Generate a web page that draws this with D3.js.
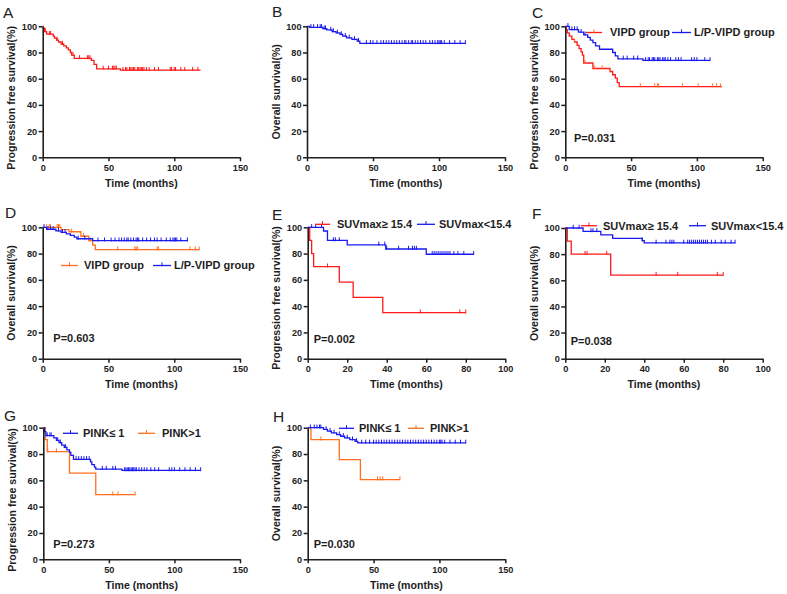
<!DOCTYPE html>
<html><head><meta charset="utf-8">
<script src="https://cdn.jsdelivr.net/npm/d3@7"></script>
<style>
body{margin:0;background:#fff;}
svg{display:block;font-family:"Liberation Sans",Arial,sans-serif;}
</style></head>
<body><svg id="c" width="787" height="594"></svg>
<script>
// ---------- DATA ----------
const xTicks150 = [0, 50, 100, 150];
const xTicks100 = [0, 20, 40, 60, 80, 100];
const yTicks = [0, 20, 40, 60, 80, 100];

// A: PFS, all patients
const A_times = [0.5, 1.5, 3, 8, 9, 10.5, 12, 14, 16, 18, 19.5, 21, 22, 24, 37, 39, 41, 59];
const A_surv  = [98.5, 96, 94, 92.5, 91, 89.5, 88, 86.5, 85, 83.5, 82, 80, 78, 75.5, 74, 71, 67.5, 66.5];
const A_cens  = [2, 5, 6, 11, 15, 23, 28, 34, 35, 36, 46, 50, 53, 54, 55, 56, 61, 63, 64, 66, 67, 68, 69, 70, 72, 73, 74, 75, 76, 77, 79, 81, 85, 88, 97, 98, 100, 101, 105, 108, 114, 118];
const A_end = 120;

// B: OS, all patients
const B_times = [2, 12, 15, 19, 22, 25, 27, 30, 34, 38, 40];
const B_surv  = [99.2, 98.2, 97.2, 96, 95, 93.8, 92.5, 91.2, 90, 88.7, 87];
const B_cens  = [3, 5, 8, 10, 11, 13, 14, 18, 20, 23, 26, 29, 32, 36, 39, 45, 48, 50, 53, 56, 58, 60, 62, 64, 66, 68, 70, 72, 74, 75, 77, 79, 80, 82, 84, 86, 88, 90, 93, 95, 97, 99, 100, 101, 102, 104, 108, 112, 116, 120];
const B_end = 120;

// C: PFS by group
const C_vipd_times = [0.5, 1.5, 3, 5, 7, 9, 10.5, 12, 13, 14, 21, 34, 36, 38, 39.5, 41];
const C_vipd_surv  = [97.5, 95, 92.5, 90, 88, 85.5, 83, 80.5, 78, 72, 67.8, 65.5, 63, 60.5, 57, 54];
const C_vipd_cens  = [7, 15, 22, 28, 34, 57, 68, 70, 71, 89, 101, 112, 115, 118];
const C_vipd_end = 119;
const C_lp_times = [3, 10, 14, 17, 19, 21, 23, 26, 36, 38, 40, 59];
const C_lp_surv  = [97.5, 95.5, 93.5, 91.5, 89.5, 87.5, 85, 82.5, 80, 77.5, 75.2, 74];
const C_lp_cens  = [2, 5, 7, 9, 12, 15, 44, 47, 52, 55, 61, 63, 64, 66, 67, 68, 70, 71, 72, 74, 75, 76, 78, 80, 84, 86, 88, 96, 98, 100, 106, 110];
const C_lp_end = 110;

// D: OS by group
const D_vipd_times = [14, 20, 29, 35, 38, 40];
const D_vipd_surv  = [98.3, 96.6, 93.2, 89.8, 86.4, 83];
const D_vipd_cens  = [3, 5, 6, 11, 12, 13, 22, 31, 36, 57, 70, 71, 72, 87, 88, 112, 116, 119];
const D_vipd_end = 119;
const D_lp_times = [3, 10, 14, 18, 21, 24, 26, 38];
const D_lp_surv  = [98.5, 97.3, 96.2, 95, 93.8, 92.5, 91.3, 89.8];
const D_lp_cens  = [1, 4, 6, 8, 12, 15, 17, 27, 32, 42, 47, 52, 55, 58, 60, 62, 64, 65, 67, 69, 71, 72, 73, 76, 79, 82, 85, 87, 90, 94, 97, 99, 100, 101, 102, 105, 110];
const D_lp_end = 110;

// E: PFS by SUVmax
const E_hi_times = [1, 2, 3, 16, 23, 38];
const E_hi_surv  = [90, 80, 70, 58.3, 46.7, 35];
const E_hi_cens  = [10, 57, 77, 80];
const E_hi_end = 80;
const E_lo_times = [8, 10, 20, 39.5, 60];
const E_lo_surv  = [97.2, 90, 86.7, 83.5, 79.5];
const E_lo_cens  = [2, 4, 7, 13, 14, 16, 36, 39, 40, 46, 51, 53, 54, 55, 63, 64, 65, 66, 67, 68, 69, 70, 71, 72, 74, 76, 79, 84];
const E_lo_end = 84;

// F: OS by SUVmax
const F_hi_times = [1, 3, 23];
const F_hi_surv  = [90, 80, 64];
const F_hi_cens  = [10, 11, 21, 46, 57, 77, 80];
const F_hi_end = 80;
const F_lo_times = [9, 18, 24, 39, 40];
const F_lo_surv  = [97.4, 94.7, 92, 90.3, 88.6];
const F_lo_cens  = [4, 7, 13, 14, 16, 39, 46, 51, 53, 54, 55, 60, 62, 63, 64, 65, 66, 67, 68, 69, 70, 71, 72, 74, 76, 79, 81, 84, 86];
const F_lo_end = 86;

// G: PFS by PINK
const G_le_times = [1, 2, 8, 10, 12, 14, 16, 18, 20, 21, 23, 36, 37, 39, 40, 60];
const G_le_surv  = [97, 94, 92.2, 90.4, 88.6, 86.8, 85, 83.2, 81.2, 79, 76, 74, 72, 70, 68.5, 67.5];
const G_le_cens  = [3, 5, 6, 11, 13, 17, 25, 27, 29, 31, 33, 35, 45, 48, 53, 55, 62, 63, 64, 65, 66, 67, 68, 69, 70, 71, 73, 75, 77, 79, 82, 85, 88, 96, 98, 100, 104, 108, 112, 116, 120];
const G_le_end = 120;
const G_gt_times = [1.5, 3, 20, 40];
const G_gt_surv  = [90.9, 81.8, 65.5, 49.1];
const G_gt_cens  = [3.5, 10, 53, 57, 70];
const G_gt_end = 70;

// H: OS by PINK
const H_le_times = [12, 15, 18, 22, 25, 28, 32, 36, 38];
const H_le_surv  = [98.7, 97.4, 96.1, 94.8, 93.5, 92.2, 90.9, 89.6, 88.5];
const H_le_cens  = [2, 5, 7, 9, 10, 14, 17, 20, 24, 27, 30, 34, 37, 41, 44, 47, 50, 52, 54, 56, 58, 60, 62, 64, 66, 68, 70, 72, 74, 76, 78, 80, 82, 84, 86, 88, 90, 92, 94, 96, 98, 100, 101, 102, 104, 108, 112, 116, 120];
const H_le_end = 120;
const H_gt_times = [2.5, 24, 40];
const H_gt_surv  = [90.9, 75.8, 60.6];
const H_gt_cens  = [10, 53, 55, 57, 70];
const H_gt_end = 70;

const pValues = {C: "P=0.031", D: "P=0.603", E: "P=0.002", F: "P=0.038", G: "P=0.273", H: "P=0.030"};

// ---------- STYLE ----------
const RED = "#ff1a1a", BLUE = "#1a1aee", ORANGE = "#ff6f1f";
const AX = "#1e1e1e";
const PFS = "Progression free survival(%)", OS = "Overall survival(%)";

const panels = [
  {id:"A", x0:42.7, x1:240, yT:26.3, yB:157.3, xmax:150, xt:xTicks150, yt:PFS, off:6, L:[3,18],
   curves:[{t:A_times,s:A_surv,c:A_cens,e:A_end,col:RED,tc:RED}], legend:[], p:null},
  {id:"B", x0:307, x1:505, yT:26.3, yB:157.3, xmax:150, xt:xTicks150, yt:OS, off:0, L:[272,17],
   curves:[{t:B_times,s:B_surv,c:B_cens,e:B_end,col:BLUE,tc:BLUE}], legend:[], p:null},
  {id:"C", x0:565.3, x1:762.7, yT:26.3, yB:157.3, xmax:150, xt:xTicks150, yt:PFS, off:6, L:[532,18],
   curves:[{t:C_vipd_times,s:C_vipd_surv,c:C_vipd_cens,e:C_vipd_end,col:RED,tc:ORANGE},
           {t:C_lp_times,s:C_lp_surv,c:C_lp_cens,e:C_lp_end,col:BLUE,tc:BLUE}],
   legend:[{x1:586,x2:602,tx:610,y:32.5,label:"VIPD group",col:RED,tc:ORANGE},
           {x1:672,x2:691,tx:694,y:32.5,label:"L/P-VIPD group",col:BLUE,tc:BLUE}], p:[574,141.7]},
  {id:"D", x0:42.7, x1:240, yT:227.3, yB:358.7, xmax:150, xt:xTicks150, yt:OS, off:0, L:[5,218],
   curves:[{t:D_vipd_times,s:D_vipd_surv,c:D_vipd_cens,e:D_vipd_end,col:ORANGE,tc:ORANGE},
           {t:D_lp_times,s:D_lp_surv,c:D_lp_cens,e:D_lp_end,col:BLUE,tc:BLUE}],
   legend:[{x1:61,x2:78,tx:84,y:265.5,label:"VIPD group",col:ORANGE,tc:ORANGE},
           {x1:153,x2:171,tx:174,y:265.5,label:"L/P-VIPD group",col:BLUE,tc:BLUE}], p:[53.3,341.5]},
  {id:"E", x0:307.7, x1:505.3, yT:227.3, yB:358.7, xmax:100, xt:xTicks100, yt:PFS, off:5, L:[272,220],
   curves:[{t:E_hi_times,s:E_hi_surv,c:E_hi_cens,e:E_hi_end,col:RED,tc:RED},
           {t:E_lo_times,s:E_lo_surv,c:E_lo_cens,e:E_lo_end,col:BLUE,tc:BLUE}],
   legend:[{x1:315,x2:330,tx:337,y:224.3,label:"SUVmax\u2265 15.4",col:RED,tc:RED},
           {x1:417,x2:435,tx:439,y:224.3,label:"SUVmax<15.4",col:BLUE,tc:BLUE}], p:[313.7,343.3]},
  {id:"F", x0:565.3, x1:762.7, yT:228, yB:358.7, xmax:100, xt:xTicks100, yt:OS, off:0, L:[532,219],
   curves:[{t:F_hi_times,s:F_hi_surv,c:F_hi_cens,e:F_hi_end,col:RED,tc:RED},
           {t:F_lo_times,s:F_lo_surv,c:F_lo_cens,e:F_lo_end,col:BLUE,tc:BLUE}],
   legend:[{x1:581,x2:597,tx:603,y:225.7,label:"SUVmax\u2265 15.4",col:RED,tc:RED},
           {x1:689,x2:706,tx:711,y:225.7,label:"SUVmax<15.4",col:BLUE,tc:BLUE}], p:[570.7,345]},
  {id:"G", x0:43.3, x1:240, yT:427.7, yB:559.3, xmax:150, xt:xTicks150, yt:PFS, off:6.5, L:[4,421],
   curves:[{t:G_gt_times,s:G_gt_surv,c:G_gt_cens,e:G_gt_end,col:ORANGE,tc:ORANGE},
           {t:G_le_times,s:G_le_surv,c:G_le_cens,e:G_le_end,col:BLUE,tc:BLUE}],
   legend:[{x1:63,x2:78,tx:83,y:433.3,label:"PINK\u2264 1",col:BLUE,tc:BLUE},
           {x1:138,x2:155,tx:162,y:433.3,label:"PINK>1",col:ORANGE,tc:ORANGE}], p:[53.3,548.3]},
  {id:"H", x0:307.7, x1:505.3, yT:427.7, yB:559.3, xmax:150, xt:xTicks150, yt:OS, off:0, L:[273,422],
   curves:[{t:H_gt_times,s:H_gt_surv,c:H_gt_cens,e:H_gt_end,col:ORANGE,tc:ORANGE},
           {t:H_le_times,s:H_le_surv,c:H_le_cens,e:H_le_end,col:BLUE,tc:BLUE}],
   legend:[{x1:339,x2:354,tx:359,y:428.3,label:"PINK\u2264 1",col:BLUE,tc:BLUE},
           {x1:408,x2:424,tx:430,y:428.3,label:"PINK>1",col:ORANGE,tc:ORANGE}], p:[313.7,548.3]}
];

const svg = d3.select("#c");

panels.forEach(P => {
  const g = svg.append("g");
  const x = d3.scaleLinear().domain([0, P.xmax]).range([P.x0, P.x1]);
  const y = d3.scaleLinear().domain([0, 100]).range([P.yB, P.yT]);

  // curves
  P.curves.forEach(C => {
    const pts = [[0, 100]];
    C.t.forEach((t, i) => pts.push([t, C.s[i]]));
    pts.push([C.e, C.s[C.s.length - 1]]);
    const line = d3.line().x(d => x(d[0])).y(d => y(d[1])).curve(d3.curveStepAfter);
    g.append("path").attr("d", line(pts)).attr("fill", "none")
      .attr("stroke", C.col).attr("stroke-width", 1.3);
    const survAt = tc => { let s = 100; C.t.forEach((t, i) => { if (t <= tc) s = C.s[i]; }); return s; };
    g.selectAll(null).data(C.c).enter().append("line")
      .attr("x1", d => x(d)).attr("x2", d => x(d))
      .attr("y1", d => y(survAt(d)) - 3.2).attr("y2", d => y(survAt(d)) + 0.8)
      .attr("stroke", C.tc).attr("stroke-width", 1);
  });

  // axes
  const xa = g.append("g").attr("transform", `translate(0,${P.yB})`)
    .call(d3.axisBottom(x).tickValues(P.xt).tickSize(4).tickSizeOuter(0).tickPadding(3));
  const ya = g.append("g").attr("transform", `translate(${P.x0},0)`)
    .call(d3.axisLeft(y).tickValues(yTicks).tickSize(4).tickSizeOuter(0).tickPadding(1.5));
  [xa, ya].forEach(a => {
    a.select(".domain").attr("stroke", AX).attr("stroke-width", 1.6);
    a.selectAll(".tick line").attr("stroke", AX).attr("stroke-width", 1.5);
    a.selectAll(".tick text").attr("fill", AX).attr("font-size", 9.2).attr("font-weight", "bold")
      .attr("font-family", '"Liberation Sans",Arial,sans-serif');
  });

  // axis titles
  g.append("text").attr("x", (P.x0 + P.x1) / 2).attr("y", P.yB + 29.5)
    .attr("text-anchor", "middle").attr("font-size", 10.6).attr("font-weight", "bold")
    .attr("fill", AX).text("Time (months)");
  const cy = (P.yT + P.yB) / 2 + P.off;
  g.append("text").attr("transform", `translate(${P.x0 - 27.5},${cy}) rotate(-90)`)
    .attr("text-anchor", "middle").attr("font-size", 10.6).attr("font-weight", "bold")
    .attr("fill", AX).text(P.yt);

  // panel letter
  g.append("text").attr("x", P.L[0]).attr("y", P.L[1]).attr("font-size", 15.5)
    .attr("fill", "#222").text(P.id);

  // legend
  P.legend.forEach(L => {
    g.append("line").attr("x1", L.x1).attr("x2", L.x2).attr("y1", L.y).attr("y2", L.y)
      .attr("stroke", L.col).attr("stroke-width", 1.3);
    const mx = (L.x1 + L.x2) / 2;
    g.append("line").attr("x1", mx).attr("x2", mx).attr("y1", L.y - 3.2).attr("y2", L.y + 0.8)
      .attr("stroke", L.tc).attr("stroke-width", 1);
    g.append("text").attr("x", L.tx).attr("y", L.y + 3.9).attr("font-size", 11)
      .attr("font-weight", "bold").attr("fill", AX).text(L.label);
  });

  // p-value
  if (P.p) {
    g.append("text").attr("x", P.p[0]).attr("y", P.p[1]).attr("font-size", 11)
      .attr("font-weight", "bold").attr("fill", AX).text(pValues[P.id]);
  }
});
</script>
</body></html>
